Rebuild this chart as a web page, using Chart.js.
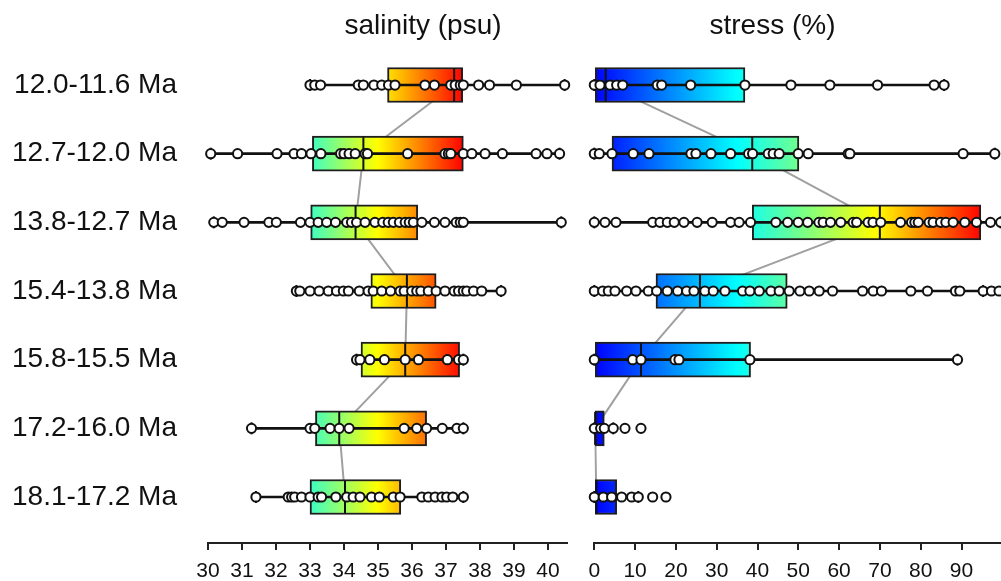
<!DOCTYPE html>
<html>
<head>
<meta charset="utf-8">
<script src="https://cdn.jsdelivr.net/npm/chart.js@4"></script>
<style>
  html, body { margin: 0; padding: 0; overflow: hidden; background: #fff; }
  #wrap { position: relative; width: 1001px; height: 581px; overflow: hidden; }
  #wrap canvas { position: absolute; top: 0; }
  #salinity { left: 0; }
  #stress { left: 580px; }
</style>
</head>
<body>
<div id="wrap">
  <canvas id="salinity" width="580" height="581" style="width:580px;height:581px"></canvas>
  <canvas id="stress" width="430" height="581" style="width:430px;height:581px"></canvas>
</div>
<script>
// Age intervals, youngest at the top
const periods = ['12.0-11.6 Ma', '12.7-12.0 Ma', '13.8-12.7 Ma', '15.4-13.8 Ma', '15.8-15.5 Ma', '17.2-16.0 Ma', '18.1-17.2 Ma'];

// Axis tick labels
const salinityTicks = [30, 31, 32, 33, 34, 35, 36, 37, 38, 39, 40];
const stressTicks = [0, 10, 20, 30, 40, 50, 60, 70, 80, 90];

// Salinity (psu) box statistics per interval
const salinityLow    = [33.00, 30.08, 30.17, 32.60, 34.37, 31.28, 31.41];
const salinityQ1     = [35.28, 33.07, 33.02, 34.79, 34.50, 33.16, 33.00];
const salinityMedian = [37.24, 34.57, 34.34, 35.85, 35.80, 33.86, 34.03];
const salinityQ3     = [37.49, 37.51, 36.17, 36.71, 37.40, 36.43, 35.67];
const salinityHigh   = [40.49, 40.34, 40.39, 38.62, 37.51, 37.51, 37.51];

// Salinity (psu) individual samples per interval
const salinitySamples = [
  [33.00, 33.14, 33.31, 34.42, 34.57, 34.88, 35.11, 35.31, 35.50, 36.38, 36.66, 37.14, 37.27, 37.42, 37.51, 37.96, 38.28, 39.07, 40.49],
  [30.08, 30.87, 32.03, 32.53, 32.75, 33.03, 33.32, 33.90, 34.00, 34.15, 34.33, 34.62, 34.69, 35.87, 36.97, 37.07, 37.14, 37.51, 37.76, 38.15, 38.66, 39.65, 39.97, 40.34],
  [30.17, 30.42, 31.06, 31.79, 32.01, 32.72, 33.00, 33.24, 33.49, 33.75, 34.08, 34.22, 34.37, 34.62, 34.91, 35.14, 35.30, 35.45, 35.63, 35.80, 35.92, 36.04, 36.29, 36.66, 36.97, 37.30, 37.42, 37.51, 40.39],
  [32.60, 32.70, 33.00, 33.27, 33.54, 33.78, 33.98, 34.13, 34.45, 34.71, 34.86, 35.11, 35.37, 35.65, 35.77, 35.99, 36.14, 36.26, 36.48, 36.71, 36.97, 37.24, 37.37, 37.51, 37.61, 37.81, 38.05, 38.62],
  [34.37, 34.47, 34.76, 35.19, 35.80, 36.19, 37.04, 37.37, 37.51],
  [31.28, 33.00, 33.14, 33.59, 33.86, 34.15, 35.77, 36.14, 36.43, 36.89, 37.32, 37.51],
  [31.41, 32.36, 32.46, 32.55, 32.75, 33.00, 33.24, 33.34, 33.76, 34.08, 34.27, 34.47, 34.81, 35.04, 35.45, 35.65, 36.29, 36.48, 36.68, 36.88, 37.02, 37.20, 37.51]
];

// Stress (%) box statistics per interval
const stressLow    = [0, 0, 0, 0, 0, 0, 0];
const stressQ1     = [0, 4.34, 38.71, 15.12, 0, 0, 0];
const stressMedian = [2.79, 38.71, 69.99, 25.89, 11.44, 0.2, 0.5];
const stressQ3     = [36.92, 50.15, 94.73, 47.29, 38.30, 2.45, 5.48];
const stressHigh   = [85.74, 98.16, 99.60, 95.30, 89.02, 4.65, 10.78];

// Stress (%) individual samples per interval
const stressSamples = [
  [0, 1.4, 3.85, 5.48, 6.95, 15.44, 16.51, 23.61, 36.92, 48.19, 57.74, 69.42, 83.29, 85.74],
  [0, 1.23, 4.34, 9.55, 13.40, 23.69, 24.91, 28.59, 33.41, 37.82, 38.80, 42.63, 43.85, 45.32, 49.98, 52.43, 62.22, 62.64, 90.40, 98.16],
  [0, 2.62, 5.32, 14.3, 16.1, 17.9, 19.6, 21.97, 25.2, 28.9, 33.4, 35.5, 38.3, 44.5, 47.4, 49.98, 52.3, 55.05, 56.1, 57.9, 60.4, 63.45, 64.3, 67.1, 68.3, 70.2, 75.06, 77.75, 78.56, 79.4, 82.07, 83.05, 84.86, 86.16, 87.95, 90.81, 93.68, 97.11, 99.6],
  [0, 2.05, 3.44, 5.07, 7.93, 10.21, 13.24, 15.28, 17.9, 20.42, 22.63, 24.42, 27.1, 29.16, 32.02, 36.35, 38.14, 40.43, 43.29, 45.32, 47.77, 50.39, 52.68, 55.12, 58.40, 65.75, 68.35, 70.4, 77.58, 81.66, 88.52, 89.58, 95.3, 97.35, 99.2],
  [0, 9.4, 11.44, 19.77, 20.75, 38.14, 89.02],
  [0, 1.55, 2.45, 4.65, 7.52, 11.44],
  [0, 2.2, 4.25, 6.7, 9.15, 10.78, 14.3, 17.56]
];

// Jet-style colour ramps expressed in each panel's own units
const salinityRamp = [[28.6, '#000080'], [29.875, '#0000ff'], [32.425, '#00ffff'], [33.7, '#80ff80'], [34.975, '#ffff00'], [36.25, '#ff8000'], [37.525, '#ff0000'], [38.8, '#800000']];
const stressRamp = [[0, '#0000ff'], [17.5, '#0080ff'], [35, '#00ffff'], [52, '#80ff80'], [69, '#ffff00'], [82, '#ff8000'], [95, '#ff0000'], [110, '#800000']];

const FONT = '"Liberation Sans", Arial, Helvetica, sans-serif';
const INK = '#111111';
Chart.defaults.font.family = FONT;
Chart.defaults.color = INK;

function rampFill(ramp) {
  return (ctx) => {
    const chart = ctx.chart;
    const xs = chart.scales.x;
    if (!chart.chartArea || !xs) return '#cccccc';
    const v0 = ramp[0][0], v1 = ramp[ramp.length - 1][0];
    const g = chart.ctx.createLinearGradient(xs.getPixelForValue(v0), 0, xs.getPixelForValue(v1), 0);
    ramp.forEach(([v, c]) => g.addColorStop((v - v0) / (v1 - v0), c));
    return g;
  };
}

function panelDatasets(low, q1, med, q3, high, samples, ramp) {
  const rows = med.map((_, i) => i);
  const pts = [];
  samples.forEach((list, i) => list.forEach(v => pts.push({ x: v, y: i })));
  const caps = [];
  rows.forEach(i => { caps.push({ x: low[i], y: i }); caps.push({ x: high[i], y: i }); });
  return [
    { // samples on top
      type: 'line', showLine: false, order: 0, clip: false,
      data: pts, pointRadius: 4.6, pointBorderWidth: 2,
      pointBackgroundColor: '#ffffff', pointBorderColor: INK
    },
    { // whisker end caps
      type: 'line', showLine: false, order: 1, clip: false,
      data: caps, pointStyle: 'line', pointRotation: 90, pointRadius: 6,
      pointBorderWidth: 2, pointBorderColor: INK
    },
    { // medians
      type: 'line', showLine: false, order: 2, clip: false,
      data: rows.map(i => ({ x: med[i], y: i })), pointStyle: 'line', pointRotation: 90,
      pointRadius: 16.5, pointBorderWidth: 2, pointBorderColor: INK
    },
    { // whiskers
      type: 'bar', order: 3, grouped: false, barThickness: 2,
      data: rows.map(i => ({ x: [low[i], high[i]], y: i })),
      backgroundColor: INK, borderWidth: 0
    },
    { // interquartile boxes
      type: 'bar', order: 4, grouped: false, barThickness: 35,
      data: rows.map(i => ({ x: [q1[i], q3[i]], y: i })),
      backgroundColor: rampFill(ramp), borderColor: '#1e1e1e', borderWidth: 2, borderSkipped: false
    },
    { // grey trace joining the medians
      type: 'line', order: 5, data: rows.map(i => ({ x: med[i], y: i })),
      borderColor: '#a0a0a0', borderWidth: 2, pointRadius: 0, tension: 0
    }
  ];
}

const panelTitle = {
  id: 'panelTitle',
  afterDraw(chart, args, opts) {
    const c = chart.ctx;
    c.save();
    c.font = '28px ' + FONT;
    c.fillStyle = INK;
    c.textAlign = 'center';
    c.textBaseline = 'alphabetic';
    c.fillText(opts.text, opts.x, opts.y);
    c.restore();
  }
};

function xScale(min, max, tickValues) {
  return {
    type: 'linear', position: 'bottom', min, max,
    afterBuildTicks: (s) => { s.ticks = tickValues.map(v => ({ value: v })); },
    afterFit: (s) => { s.height = 38; s.paddingLeft = 0; s.paddingRight = 0; },
    ticks: { font: { size: 21 }, color: INK, padding: 9, maxRotation: 0, autoSkip: false },
    grid: { display: true, drawOnChartArea: false, drawTicks: true, tickLength: 7, color: '#222222', lineWidth: 2 },
    border: { display: true, color: '#222222', width: 2 }
  };
}

const Y_MIN = -0.656, Y_MAX = 6.67;

function yScale(showLabels) {
  return {
    type: 'linear', reverse: true, min: Y_MIN, max: Y_MAX, display: showLabels, offset: false,
    afterBuildTicks: (s) => { s.ticks = periods.map((_, i) => ({ value: i })); },
    afterFit: (s) => {
      if (showLabels) s.width = 208;
      s.paddingTop = 0;
      s.paddingBottom = 0;
    },
    ticks: { font: { size: 28 }, color: INK, padding: 31, callback: (v) => periods[v] },
    grid: { display: false, drawTicks: false },
    border: { display: false }
  };
}

function baseOptions(padding, titleText, titleX) {
  return {
    indexAxis: 'y',
    responsive: false,
    animation: false,
    events: [],
    layout: { padding, autoPadding: false },
    plugins: {
      legend: { display: false },
      tooltip: { enabled: false },
      panelTitle: { text: titleText, x: titleX, y: 33.5 }
    }
  };
}

const salOpts = baseOptions({ left: 0, right: 13.3, top: 40, bottom: 0 }, 'salinity (psu)', 423);
salOpts.scales = { x: xScale(30, 40.55, salinityTicks), y: yScale(true) };
new Chart(document.getElementById('salinity'), {
  type: 'bar',
  data: { datasets: panelDatasets(salinityLow, salinityQ1, salinityMedian, salinityQ3, salinityHigh, salinitySamples, salinityRamp) },
  options: salOpts,
  plugins: [panelTitle]
});

const strOpts = baseOptions({ left: 14.3, right: 7.7, top: 40, bottom: 0 }, 'stress (%)', 192.5);
strOpts.scales = { x: xScale(0, 100, stressTicks), y: yScale(false) };
new Chart(document.getElementById('stress'), {
  type: 'bar',
  data: { datasets: panelDatasets(stressLow, stressQ1, stressMedian, stressQ3, stressHigh, stressSamples, stressRamp) },
  options: strOpts,
  plugins: [panelTitle]
});
</script>
</body>
</html>
